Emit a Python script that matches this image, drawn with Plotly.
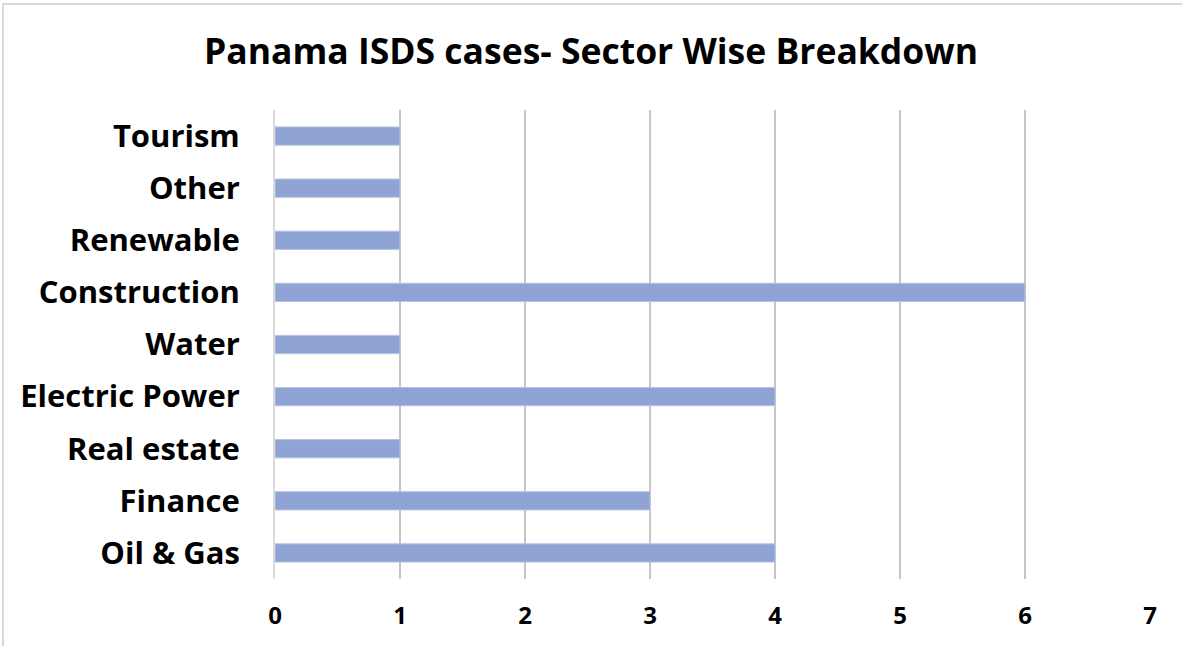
import plotly.graph_objects as go

categories = ["Oil & Gas", "Finance", "Real estate", "Electric Power", "Water",
              "Construction", "Renewable", "Other", "Tourism"]
cases = [4, 3, 1, 4, 1, 6, 1, 1, 1]
x_ticks = [0, 1, 2, 3, 4, 5, 6, 7]

W, H = 1182, 646
L, R, T, B = 275, 32, 110, 67
PW, PH = W - L - R, H - T - B
FONT = "Open Sans"

fig = go.Figure(go.Bar(
    y=categories, x=cases, orientation="h",
    marker=dict(color="#8FA4D4", line=dict(color="#B4C2E4", width=1)),
    width=0.35,
))

fig.update_layout(
    width=W, height=H,
    margin=dict(l=L, r=R, t=T, b=B),
    paper_bgcolor="white", plot_bgcolor="white",
    showlegend=False,
    title=dict(text="<b>Panama ISDS cases- Sector Wise Breakdown</b>",
               x=0.5, xanchor="center", y=1 - 52 / H, yanchor="middle",
               font=dict(family=FONT, size=35.5, color="black")),
    xaxis=dict(range=[0, 7], tickvals=x_ticks, showgrid=True,
               gridcolor="#C6C6C6", gridwidth=2,
               zeroline=False, showline=False,
               tickfont=dict(family=FONT, size=24, color="black", weight="bold"),
               ticklabelstandoff=20),
    yaxis=dict(showgrid=False, zeroline=False, showline=True,
               linecolor="#DADADA", linewidth=2,
               range=[-0.5, 8.5],
               tickfont=dict(family=FONT, size=31, color="black", weight="bold"),
               ticklabelstandoff=27),
    shapes=[dict(type="rect", xref="paper", yref="paper",
                 x0=(3 - L) / PW, x1=(1190 - L) / PW,
                 y0=-(B + 10) / PH, y1=1 + (T - 4) / PH,
                 line=dict(color="#D9D9D9", width=2), fillcolor="rgba(0,0,0,0)",
                 layer="below")],
)

fig.write_html("out.html")
